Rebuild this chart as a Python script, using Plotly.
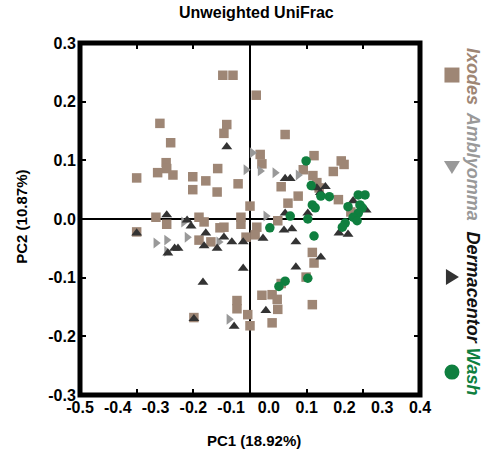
import plotly.graph_objects as go

# PCoA coordinates (PC1, PC2) per tick genus / wash sample
ixodes_pc1 = [-0.048, -0.030, -0.159, -0.041, -0.046, -0.140, -0.148, -0.147, -0.163, -0.136,
              -0.101, -0.057, -0.078, -0.200, 0.011, 0.062, 0.018, 0.021, 0.113, 0.094,
              0.111, 0.147, 0.161, 0.166, -0.101, -0.058, -0.021, -0.166, -0.147, -0.090,
              -0.081, -0.016, -0.016, 0.000, -0.200, -0.053, -0.046, -0.090, -0.069, -0.007,
              0.055, 0.118, 0.122, 0.156, 0.085, 0.067, 0.178, 0.049, 0.012, 0.009,
              0.110, 0.113, 0.055, 0.099, 0.021, 0.039, 0.048, -0.023, -0.023, -0.004,
              0.049, 0.110, -0.099, 0.000, 0.039]
ixodes_pc2 = [0.245, 0.245, 0.163, 0.161, 0.146, 0.130, 0.096, 0.086, 0.079, 0.075,
              0.072, 0.086, 0.065, 0.070, 0.211, 0.144, 0.110, 0.094, 0.108, 0.084,
              0.074, 0.081, 0.099, 0.093, 0.050, 0.046, 0.060, 0.003, -0.009, 0.003,
              -0.005, 0.003, -0.009, 0.022, -0.022, -0.015, -0.014, -0.036, -0.039, -0.031,
              0.055, 0.062, 0.053, 0.033, 0.039, 0.027, 0.012, -0.003, -0.014, -0.027,
              -0.057, -0.075, -0.110, -0.099, -0.130, -0.129, -0.137, -0.139, -0.153, -0.163,
              -0.154, -0.146, -0.168, -0.182, -0.177]

amblyomma_pc1 = [-0.007, 0.004, 0.018, 0.044, 0.085, -0.166, -0.147, -0.111, -0.117, -0.055,
                 -0.147, 0.028, -0.037]
amblyomma_pc2 = [0.084, 0.113, 0.082, 0.079, 0.075, -0.041, -0.036, -0.031, -0.005, -0.039,
                 -0.055, 0.005, -0.171]

dermacentor_pc1 = [-0.041, 0.062, 0.071, -0.147, -0.111, -0.104, -0.200, -0.078, -0.046, -0.032,
                   -0.012, -0.081, -0.058, -0.133, -0.127, -0.145, -0.012, -0.083, 0.118, 0.133,
                   0.124, 0.182, 0.205, 0.062, 0.102, 0.060, 0.074, 0.157, 0.173, 0.023,
                   0.081, 0.125, 0.081, -0.099, -0.028, 0.028]
dermacentor_pc2 = [0.123, 0.069, 0.069, 0.007, -0.002, -0.012, -0.024, -0.024, -0.031, -0.039,
                   -0.039, -0.046, -0.050, -0.050, -0.050, -0.058, -0.084, -0.108, 0.053, 0.055,
                   0.045, 0.031, 0.015, 0.010, 0.010, -0.019, -0.017, -0.024, -0.026, -0.033,
                   -0.039, -0.065, -0.082, -0.170, -0.183, -0.156]

wash_pc1 = [0.099, 0.108, 0.125, 0.140, 0.110, 0.115, 0.191, 0.203, 0.194, 0.198,
            0.173, 0.191, 0.071, 0.102, 0.182, 0.189, 0.035, 0.168, 0.163, 0.113,
            0.062, 0.051, 0.102]
wash_pc2 = [0.099, 0.057, 0.039, 0.038, 0.024, 0.019, 0.041, 0.041, 0.024, 0.019,
            0.021, 0.010, 0.005, 0.000, 0.003, -0.003, -0.015, -0.007, -0.014, -0.029,
            -0.106, -0.115, -0.101]

x_tick_labels = ["-0.5", "-0.4", "-0.3", "-0.2", "-0.1", "0.0", "0.1", "0.2", "0.3", "0.4"]
y_tick_labels = ["-0.3", "-0.2", "-0.1", "0.0", "0.1", "0.2", "0.3"]

COLORS = {"Ixodes": "#9e8675", "Amblyomma": "#999999", "Dermacentor": "#333333", "Wash": "#0f7f3f"}
groups = [
    ("Ixodes", ixodes_pc1, ixodes_pc2, "square"),
    ("Amblyomma", amblyomma_pc1, amblyomma_pc2, "triangle-right"),
    ("Dermacentor", dermacentor_pc1, dermacentor_pc2, "triangle-up"),
    ("Wash", wash_pc1, wash_pc2, "circle"),
]

FONT = "Liberation Sans, Arial, sans-serif"

fig = go.Figure()
for name, xs, ys, symbol in groups:
    fig.add_trace(go.Scatter(
        x=xs, y=ys, mode="markers", name=name, showlegend=False,
        marker=dict(symbol=symbol, size=9.5, color=COLORS[name], line=dict(width=0)),
    ))

# Legend glyphs (pixel-sized paths, y up) for the legend turned 90 degrees
GLYPHS = {
    "square": "M -7.5 -7.5 L 7.5 -7.5 L 7.5 7.5 L -7.5 7.5 Z",
    "triangle-down": "M -8 6 L 8 6 L 0 -7 Z",
    "triangle-right": "M -6 8 L -6 -8 L 7 0 Z",
}
legend_items = [
    # name, rotated glyph, marker y, label y (paper fractions)
    ("Ixodes", "square", 0.909, 0.906),
    ("Amblyomma", "triangle-down", 0.648, 0.651),
    ("Dermacentor", "triangle-right", 0.335, 0.305),
    ("Wash", "circle", 0.065, 0.066),
]
shapes = [dict(type="rect", xref="paper", yref="paper", x0=0, y0=0, x1=1, y1=1,
               line=dict(color="black", width=5), layer="above")]
for name, glyph, my, ty in legend_items:
    common = dict(xref="paper", yref="paper", xsizemode="pixel", ysizemode="pixel",
                  xanchor=1.094, yanchor=my, fillcolor=COLORS[name],
                  line=dict(width=0), layer="above")
    if glyph == "circle":
        shapes.append(dict(type="circle", x0=-7.5, x1=7.5, y0=-7.5, y1=7.5, **common))
    else:
        shapes.append(dict(type="path", path=GLYPHS[glyph], **common))
    fig.add_annotation(
        text=f"<b><i>{name}</i></b>", xref="paper", yref="paper",
        x=1.156, y=ty, textangle=90, showarrow=False,
        font=dict(family=FONT, size=18, color="#111111" if name == "Dermacentor" else COLORS[name]),
        xanchor="center", yanchor="middle",
    )

tick_style = dict(showline=True, linewidth=1, linecolor="black", mirror="ticks",
                  ticks="inside", ticklen=6, tickwidth=2, tickcolor="black",
                  showgrid=False, zeroline=True, zerolinecolor="black", zerolinewidth=1.5)

fig.update_layout(
    width=490, height=459,
    margin=dict(l=80, r=70, t=43, b=64, autoexpand=False),
    paper_bgcolor="white", plot_bgcolor="white",
    showlegend=False,
    xaxis=dict(range=[-0.3, 0.3], tickvals=[-0.2, -0.1, 0, 0.1, 0.2], showticklabels=False,
               **tick_style),
    xaxis2=dict(overlaying="x", anchor="y", side="bottom",
                range=[-0.5, 0.4], tickvals=[float(t) for t in x_tick_labels],
                ticktext=x_tick_labels, ticks="", showline=False, showgrid=False,
                zeroline=False, ticklabelstandoff=1,
                tickfont=dict(family=FONT, size=16, color="black", weight="bold")),
    yaxis=dict(range=[-0.3, 0.3], tickvals=[float(t) for t in y_tick_labels],
               ticktext=y_tick_labels,
               tickfont=dict(family=FONT, size=16, color="black", weight="bold"), **tick_style),
    shapes=shapes,
)

# Empty trace that makes the secondary label axis render
fig.add_trace(go.Scatter(x=[-0.5, 0.4], y=[None, None], xaxis="x2", yaxis="y",
                         mode="markers", showlegend=False, hoverinfo="skip"))

fig.add_annotation(text="<b>Unweighted UniFrac</b>", xref="paper", yref="paper",
                   x=0.52, y=1.088, showarrow=False,
                   font=dict(family=FONT, size=16, color="black"),
                   xanchor="center", yanchor="middle")
fig.add_annotation(text="<b>PC1 (18.92%)</b>", xref="paper", yref="paper",
                   x=0.512, y=-0.128, showarrow=False,
                   font=dict(family=FONT, size=15, color="black"),
                   xanchor="center", yanchor="middle")
fig.add_annotation(text="<b>PC2 (10.87%)</b>", xref="paper", yref="paper",
                   x=-0.171, y=0.506, textangle=-90, showarrow=False,
                   font=dict(family=FONT, size=15, color="black"),
                   xanchor="center", yanchor="middle")

fig.write_html("out.html")
